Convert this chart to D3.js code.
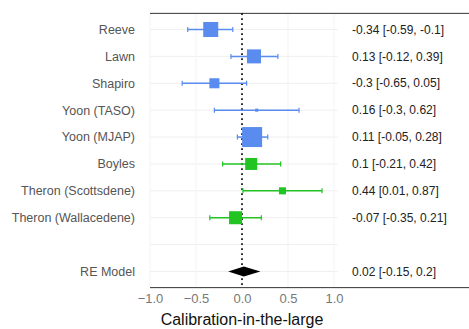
<!DOCTYPE html>
<html>
<head>
<meta charset="utf-8">
<script src="https://cdn.jsdelivr.net/npm/d3@7"></script>
<style>
  body { margin: 0; background: #fff; }
  svg { display: block; font-family: Arial, "Liberation Sans", sans-serif; }
</style>
</head>
<body>
<div id="chart"></div>
<script>
// Study data
var studies = ["Reeve", "Lawn", "Shapiro", "Yoon (TASO)", "Yoon (MJAP)", "Boyles",
    "Theron (Scottsdene)", "Theron (Wallacedene)"];
var estimates = [-0.34, 0.13, -0.3, 0.16, 0.11, 0.1, 0.44, -0.07];
var lower = [-0.59, -0.12, -0.65, -0.3, -0.05, -0.21, 0.01, -0.35];
var upper = [-0.1, 0.39, 0.05, 0.62, 0.28, 0.42, 0.87, 0.21];
var weights = [14.1, 12.3, 6.3, 0.6, 25, 9, 3.1, 10.6];
var groups = ["a", "a", "a", "a", "a", "b", "b", "b"];

var pooledLabel = "RE Model";
var pooled = {est: 0.02, lo: -0.15, hi: 0.2};

var xTicks = [-1.0, -0.5, 0.0, 0.5, 1.0];
var xTitle = "Calibration-in-the-large";

var width = 469, height = 329;
var colors = {a: "#5a8cf0", b: "#22c422"};

var svg = d3.select("#chart").append("svg")
    .attr("width", width)
    .attr("height", height);

var x = d3.scaleLinear().domain([-1, 1]).range([150, 334]);
// row index -> pixel; study rows 0..7, empty row 8, pooled row 9
var y = d3.scaleLinear().domain([0, 9]).range([29.5, 271.5]);
var size = d3.scaleSqrt().domain([0, 25]).range([0, 20]);

var rows = d3.range(10);

// faint grid
svg.append("g").selectAll("line.hgrid").data(rows).enter().append("line")
    .attr("x1", x(-1)).attr("x2", x(1.04))
    .attr("y1", function (d) { return y(d); })
    .attr("y2", function (d) { return y(d); })
    .attr("stroke", "#efefef").attr("stroke-width", 1);
svg.append("g").selectAll("line.vgrid").data(xTicks).enter().append("line")
    .attr("x1", function (d) { return x(d); })
    .attr("x2", function (d) { return x(d); })
    .attr("y1", y(-0.6)).attr("y2", y(9.6))
    .attr("stroke", "#f3f3f3").attr("stroke-width", 1);

// top rule
svg.append("line")
    .attr("x1", x(-1)).attr("x2", width)
    .attr("y1", y(-0.6)).attr("y2", y(-0.6))
    .attr("stroke", "#333").attr("stroke-width", 1);

// zero reference line
svg.append("line")
    .attr("x1", x(0)).attr("x2", x(0))
    .attr("y1", y(-0.6)).attr("y2", y(9.6))
    .attr("stroke", "#000").attr("stroke-width", 1.6)
    .attr("stroke-dasharray", "1.6,3.4");

// study rows
var study = svg.append("g").selectAll("g.study").data(studies).enter().append("g")
    .attr("class", "study");

study.append("line")
    .attr("x1", function (d, i) { return x(lower[i]); })
    .attr("x2", function (d, i) { return x(upper[i]); })
    .attr("y1", function (d, i) { return y(i); })
    .attr("y2", function (d, i) { return y(i); })
    .attr("stroke", function (d, i) { return colors[groups[i]]; })
    .attr("stroke-width", 1.5);

[lower, upper].forEach(function (arr) {
    study.append("line")
        .attr("x1", function (d, i) { return x(arr[i]); })
        .attr("x2", function (d, i) { return x(arr[i]); })
        .attr("y1", function (d, i) { return y(i) - 2.5; })
        .attr("y2", function (d, i) { return y(i) + 2.5; })
        .attr("stroke", function (d, i) { return colors[groups[i]]; })
        .attr("stroke-width", 1.2);
});

study.append("rect")
    .attr("x", function (d, i) { return x(estimates[i]) - size(weights[i]) / 2; })
    .attr("y", function (d, i) { return y(i) - size(weights[i]) / 2; })
    .attr("width", function (d, i) { return size(weights[i]); })
    .attr("height", function (d, i) { return size(weights[i]); })
    .attr("fill", function (d, i) { return colors[groups[i]]; });

// labels
var fmt = function (v) { return String(+v.toFixed(2)); };
study.append("text")
    .attr("x", 135).attr("y", function (d, i) { return y(i); })
    .attr("dy", "0.35em").attr("text-anchor", "end")
    .attr("font-size", 12.5).attr("fill", "#555")
    .text(function (d) { return d; });
study.append("text")
    .attr("x", 352).attr("y", function (d, i) { return y(i); })
    .attr("dy", "0.35em")
    .attr("font-size", 12).attr("fill", "#222")
    .text(function (d, i) {
        return fmt(estimates[i]) + " [" + fmt(lower[i]) + ", " + fmt(upper[i]) + "]";
    });

// pooled estimate
var py = y(9);
svg.append("path")
    .attr("d", "M" + x(pooled.lo) + "," + py +
        "L" + x(pooled.est) + "," + (py - 5) +
        "L" + x(pooled.hi) + "," + py +
        "L" + x(pooled.est) + "," + (py + 5) + "Z")
    .attr("fill", "#000");
svg.append("text")
    .attr("x", 135).attr("y", py).attr("dy", "0.35em").attr("text-anchor", "end")
    .attr("font-size", 12.5).attr("fill", "#555")
    .text(pooledLabel);
svg.append("text")
    .attr("x", 352).attr("y", py).attr("dy", "0.35em")
    .attr("font-size", 12).attr("fill", "#222")
    .text(fmt(pooled.est) + " [" + fmt(pooled.lo) + ", " + fmt(pooled.hi) + "]");

// x axis
var xAxis = d3.axisBottom(x).tickValues(xTicks).tickSize(0).tickPadding(6)
    .tickFormat(d3.format(".1f"));
var axisG = svg.append("g")
    .attr("transform", "translate(0," + y(9.6) + ")")
    .call(xAxis);
axisG.select(".domain").remove();
axisG.selectAll("text").attr("font-size", 13).attr("fill", "#777")
    .attr("font-family", "Arial, 'Liberation Sans', sans-serif");
svg.append("line")
    .attr("x1", x(-1)).attr("x2", width)
    .attr("y1", y(9.6)).attr("y2", y(9.6))
    .attr("stroke", "#333").attr("stroke-width", 1);

svg.append("text")
    .attr("x", x(0)).attr("y", 325)
    .attr("text-anchor", "middle")
    .attr("font-size", 16).attr("fill", "#111")
    .text(xTitle);
</script>
</body>
</html>
